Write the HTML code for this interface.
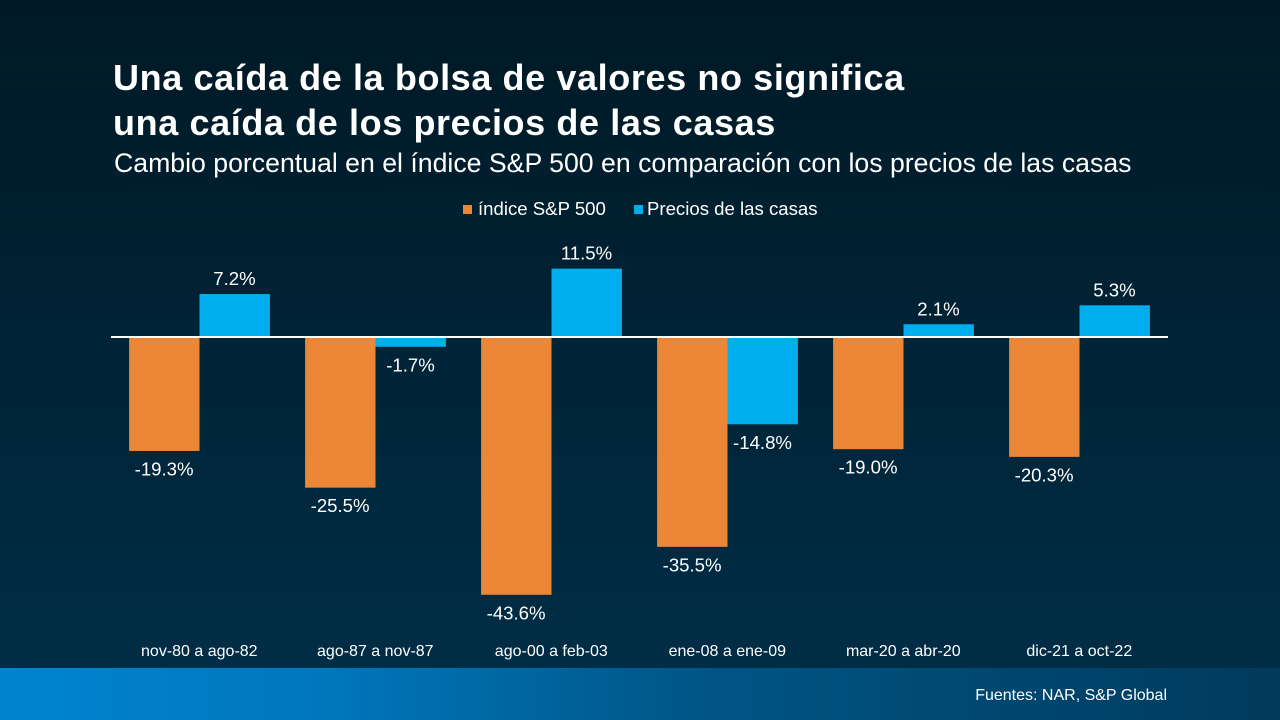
<!DOCTYPE html>
<html lang="es">
<head>
<meta charset="utf-8">
<title>Una caída de la bolsa de valores</title>
<style>
html,body{margin:0;padding:0;width:1280px;height:720px;overflow:hidden;background:#001a28;}
svg{display:block;font-family:"Liberation Sans",Arial,sans-serif;}
</style>
</head>
<body>
<svg id="chart" xmlns="http://www.w3.org/2000/svg" width="1280" height="720" viewBox="0 0 1280 720">
<defs>
<linearGradient id="bgGrad" x1="0" y1="0" x2="0" y2="1">
<stop offset="0" stop-color="#001925"/>
<stop offset="1" stop-color="#002d46"/>
</linearGradient>
<linearGradient id="footGrad" x1="0" y1="0" x2="1" y2="0">
<stop offset="0" stop-color="#0084cf"/>
<stop offset="0.25" stop-color="#0077bd"/>
<stop offset="0.55" stop-color="#005585"/>
<stop offset="1" stop-color="#003a5c"/>
</linearGradient>
</defs>
<rect x="0" y="0" width="1280" height="668" fill="url(#bgGrad)"/>
<rect x="0" y="668" width="1280" height="52" fill="url(#footGrad)"/>
<text x="113" y="90" font-size="36" font-weight="700" letter-spacing="0.61" fill="#fff">Una caída de la bolsa de valores no significa</text>
<text x="113" y="135" font-size="36" font-weight="700" letter-spacing="0.61" fill="#fff">una caída de los precios de las casas</text>
<text x="114" y="172" font-size="26.66" fill="#fff">Cambio porcentual en el índice S&amp;P 500 en comparación con los precios de las casas</text>
<rect x="463" y="205" width="9" height="9" fill="#ec8737"/>
<text x="478" y="215" font-size="18.6" fill="#fff">índice S&amp;P 500</text>
<rect x="634" y="205" width="9" height="9" fill="#00aeef"/>
<text x="647" y="215" font-size="18.6" fill="#fff">Precios de las casas</text>
<g id="marks"></g>
<text x="1167" y="700" text-anchor="end" font-size="16" fill="#fff">Fuentes: NAR, S&amp;P Global</text>
</svg>
<script>
const categories = ["nov-80 a ago-82","ago-87 a nov-87","ago-00 a feb-03","ene-08 a ene-09","mar-20 a abr-20","dic-21 a oct-22"];
const sp500Values = [-19.3,-25.5,-43.6,-35.5,-19.0,-20.3];
const homePriceValues = [7.2,-1.7,11.5,-14.8,2.1,5.3];

const NS = "http://www.w3.org/2000/svg";
const marks = document.getElementById("marks");
const plotLeft = 111, groupWidth = 176, barWidth = 70.4, zeroY = 336.7, unit = 5.92;
function xCenter(i){ return plotLeft + groupWidth * (i + 0.5) + 0.5; }
function yScale(v){ return zeroY - v * unit; }
function fmt(v){ return v.toFixed(1) + "%"; }

function drawBar(i, v, offset, color, seriesName){
  const x = xCenter(i) + offset;
  const y0 = yScale(0), y1 = yScale(v);
  const r = document.createElementNS(NS, "rect");
  
  
  r.setAttribute("x", x);
  r.setAttribute("y", Math.min(y0, y1));
  r.setAttribute("width", barWidth);
  r.setAttribute("height", Math.abs(y1 - y0));
  r.setAttribute("fill", color);
  marks.appendChild(r);
  const t = document.createElementNS(NS, "text");
  
  
  t.setAttribute("x", x + barWidth / 2 - 0.2);
  t.setAttribute("y", v >= 0 ? y1 - 9 : y1 + 24.5);
  t.setAttribute("text-anchor", "middle");
  t.setAttribute("font-size", "18.6");
  t.setAttribute("fill", "#fff");
  t.textContent = fmt(v);
  marks.appendChild(t);
}

categories.forEach(function(c, i){
  drawBar(i, sp500Values[i], -barWidth, "#ec8737", "sp500");
  drawBar(i, homePriceValues[i], 0, "#00aeef", "home-prices");
  const t = document.createElementNS(NS, "text");
  
  
  t.setAttribute("x", xCenter(i) - 0.2);
  t.setAttribute("y", 656);
  t.setAttribute("text-anchor", "middle");
  t.setAttribute("font-size", "16");
  t.setAttribute("fill", "#fff");
  t.textContent = c;
  marks.appendChild(t);
});

const axis = document.createElementNS(NS, "line");


axis.setAttribute("x1", plotLeft);
axis.setAttribute("x2", plotLeft + groupWidth * categories.length + 1);
axis.setAttribute("y1", 337);
axis.setAttribute("y2", 337);
axis.setAttribute("stroke", "#fff");
axis.setAttribute("stroke-width", "2");
marks.appendChild(axis);
</script>
</body>
</html>
